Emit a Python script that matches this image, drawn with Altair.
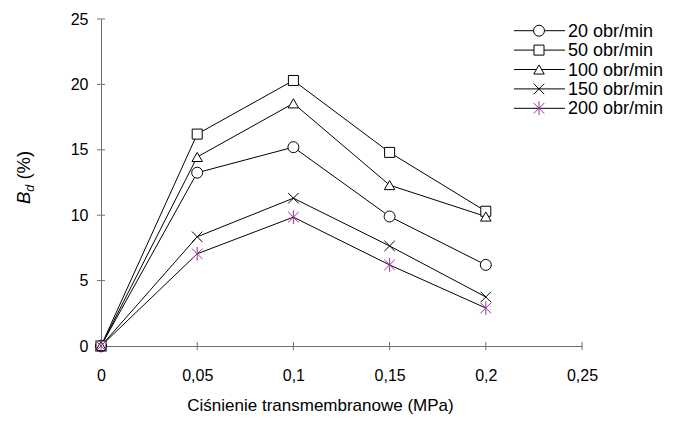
import altair as alt
import pandas as pd

# ---- data ----
pressure = [0, 0.05, 0.1, 0.15, 0.2]
series_names = ["20 obr/min", "50 obr/min", "100 obr/min", "150 obr/min", "200 obr/min"]
bd_20 = [0, 13.25, 15.2, 9.9, 6.2]
bd_50 = [0, 16.2, 20.3, 14.8, 10.3]
bd_100 = [0, 14.45, 18.55, 12.3, 9.9]
bd_150 = [0, 8.35, 11.3, 7.65, 3.75]
bd_200 = [0, 7.05, 9.85, 6.2, 2.9]
x_ticks = [0, 0.05, 0.1, 0.15, 0.2, 0.25]
y_ticks = [0, 5, 10, 15, 20, 25]
x_title = "Ciśnienie transmembranowe (MPa)"

# ---- styling ----
FONT = "Liberation Sans"
W, H = 481, 327
AXIS_GRAY = "#6e6e6e"
PURPLE = "#993399"
X_PATH = "M-1,-1L1,1M-1,1L1,-1"
AST_PATH = "M-1,-1L1,1M-1,1L1,-1M0,-1.3L0,1.3"
shapes = ["circle", "square", "triangle-up", X_PATH, AST_PATH]
strokes = ["black", "black", "black", "black", PURPLE]
sizes = [120, 100, 110, 110, 110]

all_values = [bd_20, bd_50, bd_100, bd_150, bd_200]
rows = []
for k, (name, vals) in enumerate(zip(series_names, all_values)):
    for p, v in zip(pressure, vals):
        rows.append({"series": name, "order": k, "p": p, "bd": v})
df = pd.DataFrame(rows)

x_scale = alt.Scale(domain=[0, 0.25], nice=False, zero=True)
y_scale = alt.Scale(domain=[0, 25], nice=False)

x_enc = alt.X(
    "p:Q",
    scale=x_scale,
    axis=alt.Axis(
        values=x_ticks,
        labelExpr="replace(format(datum.value, '~g'), '.', ',')",
        title=None,
        grid=False,
        ticks=False,
        labelPadding=21,
        labelFontSize=16,
        labelFont=FONT,
        labelColor="black",
        domainColor=AXIS_GRAY,
        labelFlush=False,
    ),
)
y_enc = alt.Y(
    "bd:Q",
    scale=y_scale,
    axis=alt.Axis(
        values=y_ticks,
        title=None,
        grid=False,
        ticks=False,
        labelPadding=13,
        labelFontSize=16,
        labelFont=FONT,
        labelColor="black",
        domainColor=AXIS_GRAY,
        labelFlush=False,
    ),
)

lines = alt.Chart(df).mark_line(color="black", strokeWidth=1).encode(
    x=x_enc, y=y_enc, detail="series:N", order="p:Q"
)


def marker_props(k):
    pm = dict(shape=shapes[k], size=sizes[k], filled=False, stroke=strokes[k],
              strokeWidth=1, opacity=1)
    if k < 3:
        pm["fill"] = "white"
    return pm


point_layers = []
for k, name in enumerate(series_names):
    sub = df[df["series"] == name]
    point_layers.append(
        alt.Chart(sub)
        .mark_point(**marker_props(k))
        .encode(x=alt.X("p:Q", scale=x_scale), y=alt.Y("bd:Q", scale=y_scale))
    )

# crossing ticks (Excel style)
xt = alt.Chart(pd.DataFrame({"t": x_ticks})).mark_tick(
    orient="vertical", size=8, thickness=1, color=AXIS_GRAY, opacity=1
).encode(x=alt.X("t:Q", scale=x_scale), y=alt.value(H))
yt = alt.Chart(pd.DataFrame({"t": y_ticks})).mark_tick(
    orient="horizontal", size=8, thickness=1, color=AXIS_GRAY, opacity=1
).encode(y=alt.Y("t:Q", scale=y_scale), x=alt.value(0))

# manual legend (line through marker)
legend_layers = []
for k, name in enumerate(series_names):
    yy = 11.7 + 19.4 * k
    d = alt.Data(values=[{"label": name}])
    legend_layers.append(
        alt.Chart(d).mark_rule(color="black", strokeWidth=1).encode(
            x=alt.value(413), x2=alt.value(464), y=alt.value(yy)
        )
    )
    legend_layers.append(
        alt.Chart(d).mark_point(**marker_props(k)).encode(x=alt.value(438), y=alt.value(yy))
    )
    legend_layers.append(
        alt.Chart(d)
        .mark_text(align="left", baseline="middle", font=FONT, fontSize=18, color="black")
        .encode(x=alt.value(467), y=alt.value(yy + 1), text="label:N")
    )

# axis titles
xt_title = alt.Chart(alt.Data(values=[{"t": x_title}])).mark_text(
    align="center", baseline="alphabetic", font=FONT, fontSize=17, color="black"
).encode(x=alt.value(219.5), y=alt.value(392), text="t:N")

yB = alt.Chart(alt.Data(values=[{"t": "B"}])).mark_text(
    align="left", baseline="alphabetic", font=FONT, fontSize=18.5, fontStyle="italic",
    angle=270, color="black"
).encode(x=alt.value(-71), y=alt.value(185), text="t:N")
yd = alt.Chart(alt.Data(values=[{"t": "d"}])).mark_text(
    align="left", baseline="alphabetic", font=FONT, fontSize=12.5, fontStyle="italic",
    angle=270, color="black"
).encode(x=alt.value(-67), y=alt.value(172.7), text="t:N")
yp = alt.Chart(alt.Data(values=[{"t": "(%)"}])).mark_text(
    align="left", baseline="alphabetic", font=FONT, fontSize=18.5,
    angle=270, color="black"
).encode(x=alt.value(-71), y=alt.value(160.6), text="t:N")

chart = (
    alt.layer(lines, xt, yt, *point_layers, *legend_layers, xt_title, yB, yd, yp)
    .properties(
        width=W,
        height=H,
        autosize=alt.AutoSizeParams(type="none"),
        padding={"left": 93, "top": 11, "right": 99, "bottom": 68},
    )
    .configure_view(stroke=None)
)

chart.save("out.html", embed_options={"renderer": "svg", "actions": False})
